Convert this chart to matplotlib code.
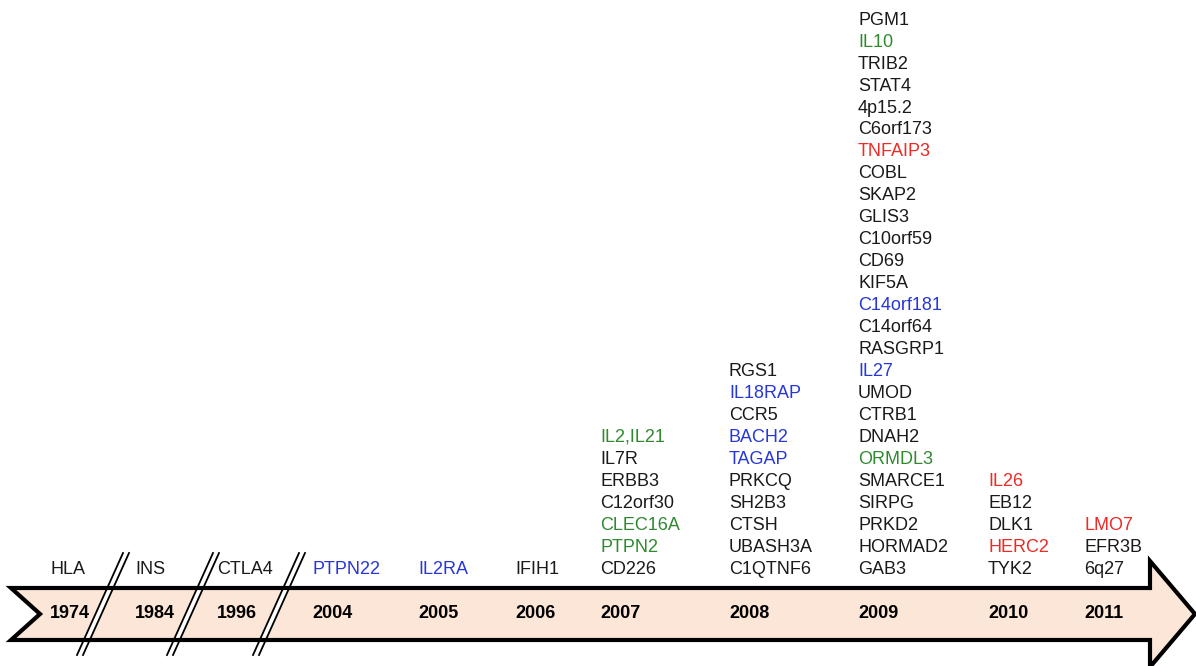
import matplotlib.pyplot as plt
from matplotlib.patches import Polygon

plt.rcParams['font.family'] = ['Liberation Sans', 'DejaVu Sans']

# data
years = ['1974', '1984', '1996', '2004', '2005', '2006', '2007', '2008', '2009', '2010', '2011']
genes = [
    ['HLA'],
    ['INS'],
    ['CTLA4'],
    ['PTPN22'],
    ['IL2RA'],
    ['IFIH1'],
    ['IL2,IL21', 'IL7R', 'ERBB3', 'C12orf30', 'CLEC16A', 'PTPN2', 'CD226'],
    ['RGS1', 'IL18RAP', 'CCR5', 'BACH2', 'TAGAP', 'PRKCQ', 'SH2B3', 'CTSH', 'UBASH3A', 'C1QTNF6'],
    ['PGM1', 'IL10', 'TRIB2', 'STAT4', '4p15.2', 'C6orf173', 'TNFAIP3', 'COBL', 'SKAP2',
     'GLIS3', 'C10orf59', 'CD69', 'KIF5A', 'C14orf181', 'C14orf64', 'RASGRP1', 'IL27',
     'UMOD', 'CTRB1', 'DNAH2', 'ORMDL3', 'SMARCE1', 'SIRPG', 'PRKD2', 'HORMAD2', 'GAB3'],
    ['IL26', 'EB12', 'DLK1', 'HERC2', 'TYK2'],
    ['LMO7', 'EFR3B', '6q27'],
]
# k = black, b = blue, g = green, r = red
groups = [
    'k', 'k', 'k', 'b', 'b', 'k',
    'gkkkggk',
    'kbkbbkkkkk',
    'kgkkkkrkkkkkkbkkbkkkgkkkkk',
    'rkkrk',
    'rkk',
]

colmap = {'k': '#1a1a1a', 'b': '#2637d9', 'g': '#2f8a2f', 'r': '#ee2a24'}

# layout (pixels)
col_x = [50, 135, 217, 312, 418, 515, 600, 729, 858, 988, 1084]
breaks_x = [77, 167, 253]
W, H = 1196, 666

fig = plt.figure(figsize=(W / 100, H / 100), dpi=100)
ax = fig.add_axes([0, 0, 1, 1])
ax.set_xlim(0, W)
ax.set_ylim(H, 0)
ax.axis('off')

# arrow
pts = [(11, 588), (1150, 588), (1150, 561), (1195, 614), (1150, 667),
       (1150, 640), (11, 640), (40, 614)]
ax.add_patch(Polygon(pts, closed=True, facecolor='#fbe6d7', edgecolor='none', zorder=1))
ax.add_patch(Polygon(pts, closed=True, facecolor='none', edgecolor='black',
                     linewidth=3, joinstyle='miter', zorder=3))

# axis breaks
for bx in breaks_x:
    x0, y0, x1, y1 = bx, 655, bx + 46, 553
    gap = 6
    ax.add_patch(Polygon([(x0, y0), (x1, y1), (x1 + gap, y1), (x0 + gap, y0)],
                         closed=True, facecolor='white', edgecolor='none', zorder=2))
    ax.plot([x0, x1], [y0, y1], color='black', lw=1.3, zorder=4)
    ax.plot([x0 + gap, x1 + gap], [y0, y1], color='black', lw=1.3, zorder=4)

# year labels
for x, yr in zip(col_x, years):
    ax.text(x, 614, yr, fontsize=13, fontweight='bold', ha='left', va='center', zorder=5)

# gene lists
step = 21.95
for x, g, c in zip(col_x, genes, groups):
    n = len(g)
    for i, (name, code) in enumerate(zip(g, c)):
        y = 569 - (n - 1 - i) * step
        ax.text(x, y, name, fontsize=13, color=colmap[code], ha='left', va='center', zorder=5)

plt.savefig('out.png', dpi=100)
